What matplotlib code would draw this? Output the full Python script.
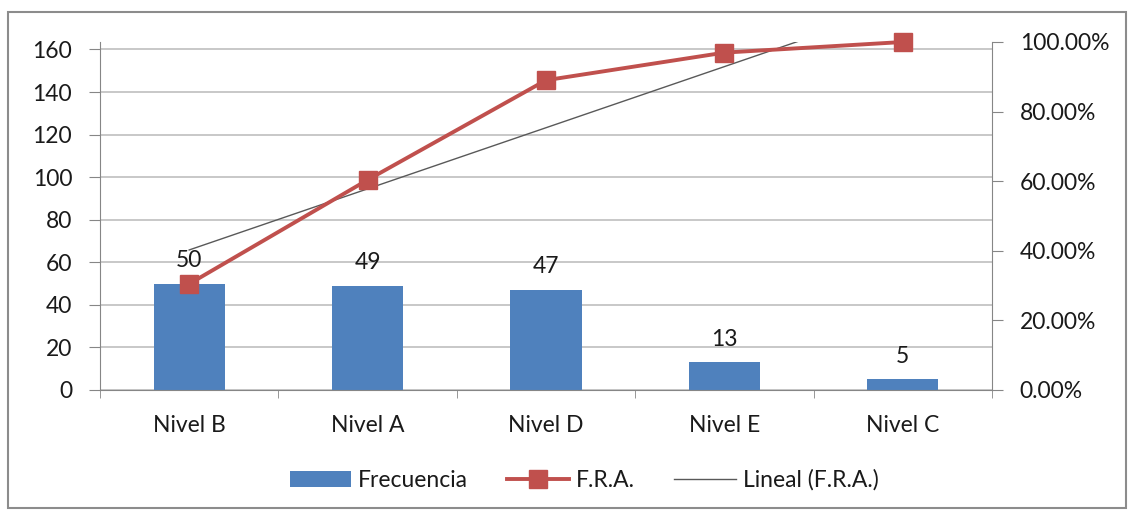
import matplotlib.pyplot as plt
import numpy as np
from matplotlib.patches import Rectangle

categories = ['Nivel B', 'Nivel A', 'Nivel D', 'Nivel E', 'Nivel C']
frecuencia = [50, 49, 47, 13, 5]
fra = [0.3049, 0.6037, 0.8902, 0.9695, 1.0]
left_ticks = [0, 20, 40, 60, 80, 100, 120, 140, 160]
right_ticks = [0.0, 0.2, 0.4, 0.6, 0.8, 1.0]

plt.rcParams['font.family'] = ['Lato', 'DejaVu Sans']
txt = '#1a1a1a'
axcol = '#868686'
fs = 16.5

fig = plt.figure(figsize=(11.34, 5.12), dpi=100)
ax = fig.add_axes([100 / 1134, 1 - 390 / 512, 892 / 1134, 348 / 512])
ax2 = ax.twinx()

x = np.arange(len(categories))
bars = ax.bar(x, frecuencia, width=0.4, color='#4F81BD', label='Frecuencia', zorder=2)
for xi, v in zip(x, frecuencia):
    ax.text(xi, v + 6, str(v), ha='center', va='bottom', fontsize=fs, color=txt)

ax.set_xlim(-0.5, len(categories) - 0.5)
ax.set_ylim(0, 163.5)
ax.set_yticks(left_ticks)
ax.set_yticklabels([str(t) for t in left_ticks], fontsize=fs, color=txt)
ax.yaxis.grid(True, color='#BFBFBF', linewidth=1.2, zorder=0)
ax.set_axisbelow(True)
ax.set_xticks(x)
ax.set_xticklabels(categories, fontsize=fs, color=txt)
ax.set_xticks(np.arange(-0.5, len(categories), 1.0), minor=True)
ax.tick_params(axis='x', which='major', length=0, pad=18)
ax.tick_params(axis='x', which='minor', length=6, color=axcol, direction='out')
ax.tick_params(axis='y', length=8, color=axcol, pad=12)
for s in ['top', 'right']:
    ax.spines[s].set_visible(False)
ax.spines['left'].set_color(axcol)
ax.spines['bottom'].set_color(axcol)

line, = ax2.plot(x, fra, color='#C0504D', linewidth=2.8, marker='s', markersize=13,
                 label='F.R.A.', zorder=4, clip_on=False)
coef = np.polyfit(x, fra, 1)
xt = np.linspace(0, len(categories) - 1, 200)
trend, = ax2.plot(xt, np.polyval(coef, xt), color='#595959', linewidth=1.0,
                  label='Lineal (F.R.A.)', zorder=3)
ax2.set_ylim(0, 1.0)
ax2.set_yticks(right_ticks)
ax2.set_yticklabels(['%.2f%%' % (t * 100) for t in right_ticks], fontsize=fs, color=txt)
ax2.tick_params(axis='y', length=8, color=axcol, pad=12)
for s in ['top', 'left', 'bottom']:
    ax2.spines[s].set_visible(False)
ax2.spines['right'].set_color(axcol)

fig.legend([bars, line, trend], ['Frecuencia', 'F.R.A.', 'Lineal (F.R.A.)'],
           loc='center', bbox_to_anchor=(0.515, 1 - 480 / 512), ncol=3, frameon=False,
           fontsize=fs, handlelength=2.7, columnspacing=1.7, handletextpad=0.3,
           labelcolor=txt)

fig.patches.append(Rectangle((8 / 1134, 4 / 512), 1118 / 1134, 496 / 512,
                             transform=fig.transFigure, fill=False,
                             edgecolor='#8C8C8C', linewidth=1.5))

fig.savefig('out.png', dpi=100)
